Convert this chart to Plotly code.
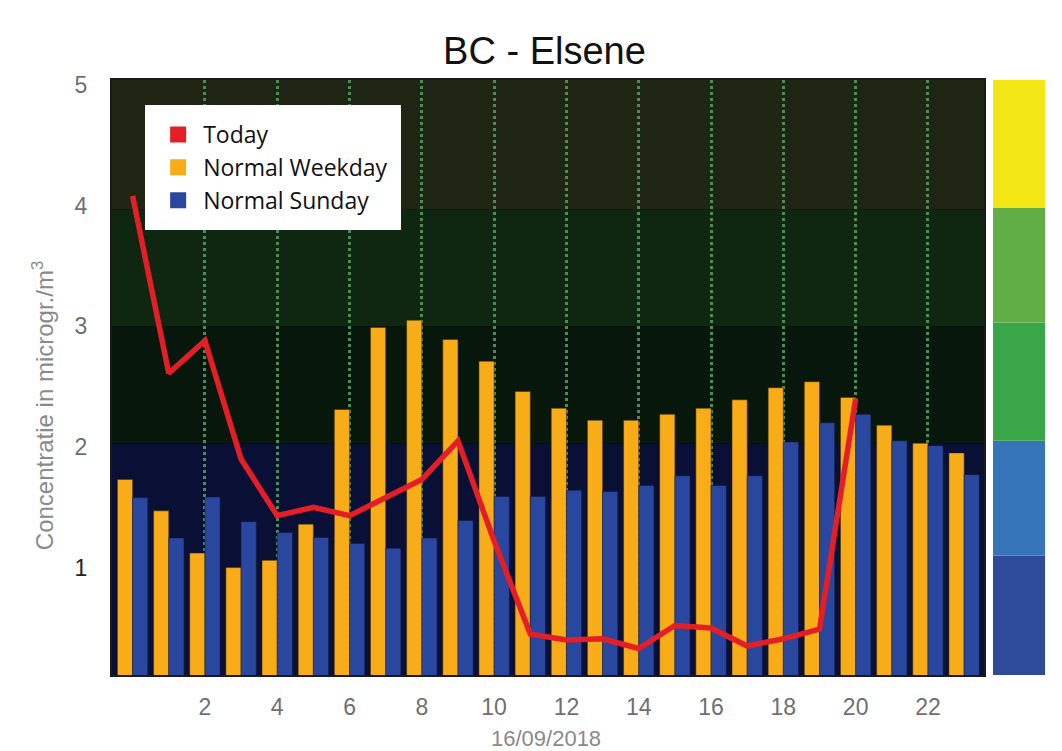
import plotly.graph_objects as go

# ---- data ----
hours = list(range(24))
weekday = [1.73, 1.47, 1.12, 1.00, 1.06, 1.36, 2.31, 2.99, 3.05, 2.89, 2.71, 2.46,
           2.32, 2.22, 2.22, 2.27, 2.32, 2.39, 2.49, 2.54, 2.41, 2.18, 2.03, 1.95]
sunday = [1.58, 1.245, 1.585, 1.38, 1.29, 1.25, 1.20, 1.16, 1.245, 1.39, 1.59, 1.59,
          1.64, 1.63, 1.68, 1.76, 1.68, 1.76, 2.04, 2.20, 2.27, 2.05, 2.01, 1.77]
today_hours = list(range(21))
today = [4.08, 2.61, 2.88, 1.90, 1.43, 1.50, 1.43, 1.58, 1.73, 2.05, 1.22, 0.45,
         0.40, 0.41, 0.33, 0.52, 0.50, 0.35, 0.41, 0.49, 2.40]
x_ticks = list(range(2, 23, 2))
y_ticks = [1, 2, 3, 4, 5]

# background bands inside plot (value levels) and colours
bg_levels = [0.11, 2.03, 3.0, 3.97, 5.04]
bg_colors = ["#0a0f36", "#08170b", "#0f2711", "#1e2512"]
# side colour scale
scale_levels = [0.11, 1.1, 2.05, 3.03, 3.98, 5.04]
scale_colors = ["#2e4a9a", "#3574b8", "#3aa64a", "#62ae46", "#f2e614"]

ORANGE = "#f8ac18"
BLUE = "#2a47a0"
RED = "#e41e26"
GREY = "#6f6f6f"

fig = go.Figure()

# bars and line (no legend entries of their own)
fig.add_trace(go.Bar(x=hours, y=weekday, name="Normal Weekday", showlegend=False,
                     marker=dict(color=ORANGE, line=dict(color="#3a2a00", width=0.5))))
fig.add_trace(go.Bar(x=hours, y=sunday, name="Normal Sunday", showlegend=False,
                     marker=dict(color=BLUE, line=dict(color="#10183a", width=0.5))))
fig.add_trace(go.Scatter(x=today_hours, y=today, mode="lines", name="Today",
                         line=dict(color=RED, width=5.5), showlegend=False))

# legend entries with square swatches
for name, col in [("Today", RED), ("Normal Weekday", ORANGE), ("Normal Sunday", BLUE)]:
    fig.add_trace(go.Scatter(x=[None], y=[None], mode="markers", name=name,
                             marker=dict(symbol="square", size=22, color=col)))

shapes = []
for i, c in enumerate(bg_colors):
    shapes.append(dict(type="rect", xref="paper", yref="y", x0=0, x1=1,
                       y0=bg_levels[i], y1=bg_levels[i + 1],
                       fillcolor=c, line=dict(width=0), layer="below"))
for i, c in enumerate(scale_colors):
    shapes.append(dict(type="rect", xref="paper", yref="y", x0=1.0103, x1=1.070,
                       y0=scale_levels[i], y1=scale_levels[i + 1],
                       fillcolor=c, line=dict(width=0), layer="above"))

fig.update_layout(
    width=1054, height=743,
    margin=dict(l=104, r=78, t=72, b=76),
    paper_bgcolor="white",
    plot_bgcolor="#020503",
    barmode="group", bargap=0.16, bargroupgap=0,
    title=dict(text="BC - Elsene", x=0.509, xanchor="center", y=0.943, yanchor="middle",
               font=dict(family="Liberation Sans, Arial", size=38, color="#111")),
    font=dict(family="Liberation Sans, Arial", color=GREY),
    shapes=shapes,
    annotations=[
        dict(text="Concentratie in microgr./m<sup>3</sup>", textangle=-90,
             xref="paper", yref="paper", x=-0.079, y=0.452,
             xanchor="center", yanchor="middle", showarrow=False,
             font=dict(size=24, color="#8a8a8a")),
        dict(text="16/09/2018", xref="paper", yref="paper", x=0.498, y=-0.106,
             xanchor="center", yanchor="middle", showarrow=False,
             font=dict(size=22, color="#8a8a8a")),
    ],
    legend=dict(x=0.038, y=0.958, xanchor="left", yanchor="top",
                bgcolor="white", bordercolor="white", borderwidth=8,
                traceorder="normal", itemsizing="trace",
                font=dict(family="Open Sans, Lato, sans-serif", size=23, color="#111"),
                itemwidth=40, tracegroupgap=0),
    showlegend=True,
)

fig.update_xaxes(range=[-0.57, 23.55], tickvals=x_ticks, ticktext=[str(t) for t in x_ticks],
                 showgrid=True, gridcolor="#4f8a5c", griddash="dot", gridwidth=3,
                 zeroline=False, ticks="", ticklabelstandoff=10,
                 tickfont=dict(size=23, color=GREY),
                 showline=True, linecolor="#1a1a1a", linewidth=2, mirror=True)
fig.update_yaxes(range=[0.11, 5.04], tickvals=y_ticks,
                 ticktext=['<span style="color:#222">1</span>', "2", "3", "4", "5"],
                 showgrid=False, zeroline=False, ticks="", ticklabelstandoff=18,
                 tickfont=dict(size=23, color=GREY),
                 showline=True, linecolor="#1a1a1a", linewidth=2, mirror=True)

fig.write_html("out.html")
